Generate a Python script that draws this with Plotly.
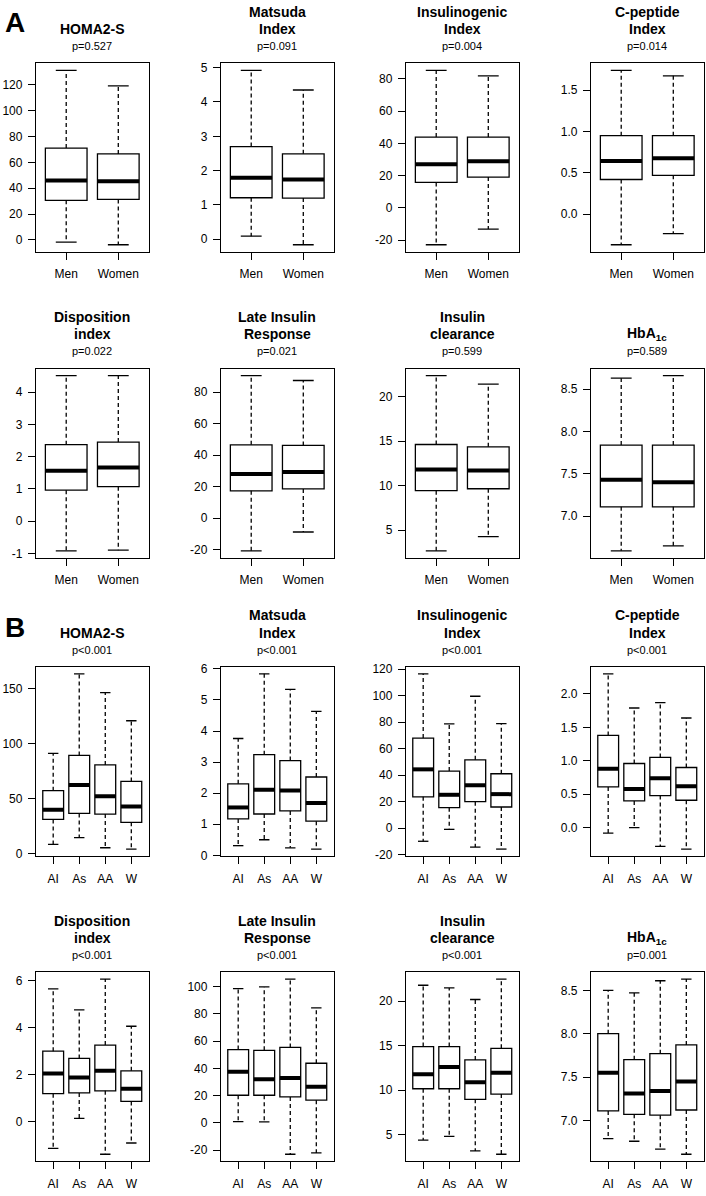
import plotly.graph_objects as go

# ---------------- data ----------------
groups_A = ["Men", "Women"]
groups_B = ["AI", "As", "AA", "W"]

title_line1 = ["", "Matsuda", "Insulinogenic", "C-peptide", "Disposition", "Late Insulin", "Insulin", ""]
title_line2 = ["HOMA2-S", "Index", "Index", "Index", "index", "Response", "clearance", "HbA<sub>1c</sub>"]

p_A = ["p=0.527", "p=0.091", "p=0.004", "p=0.014", "p=0.022", "p=0.021", "p=0.599", "p=0.589"]
p_B = ["p<0.001", "p<0.001", "p<0.001", "p<0.001", "p<0.001", "p<0.001", "p<0.001", "p=0.001"]

# box statistics (panel order: HOMA2-S, Matsuda, Insulinogenic, C-peptide,
# Disposition, Late Insulin Response, Insulin clearance, HbA1c)
A_upper = [[131.2, 119.2], [4.92, 4.35], [85.2, 81.8], [1.74, 1.675], [4.51, 4.51], [90.6, 87.5], [22.4, 21.45], [8.63, 8.66]]
A_q3 = [[71.1, 66.5], [2.70, 2.49], [43.9, 43.9], [0.95, 0.95], [2.37, 2.45], [46.6, 46.2], [14.64, 14.37], [7.84, 7.84]]
A_median = [[45.9, 45.4], [1.79, 1.74], [27.0, 28.9], [0.645, 0.676], [1.56, 1.66], [28.0, 29.2], [11.81, 11.70], [7.43, 7.40]]
A_q1 = [[30.6, 31.3], [1.21, 1.20], [15.8, 19.1], [0.42, 0.47], [0.96, 1.07], [17.3, 18.5], [9.43, 9.65], [7.11, 7.11]]
A_lower = [[-1.8, -3.8], [0.09, -0.16], [-22.8, -13.1], [-0.37, -0.235], [-0.92, -0.90], [-20.9, -8.9], [2.65, 4.25], [6.59, 6.65]]

B_upper = [[91.2, 163.5, 146.4, 120.9], [3.76, 5.84, 5.34, 4.63], [116.4, 78.6, 99.5, 78.9], [2.30, 1.79, 1.87, 1.64],
           [5.66, 4.77, 6.08, 4.07], [98.5, 99.8, 105.6, 84.5], [21.8, 21.5, 20.2, 22.5], [8.50, 8.47, 8.61, 8.63]]
B_q3 = [[57.3, 89.4, 80.7, 65.7], [2.30, 3.24, 3.05, 2.52], [67.9, 43.0, 51.5, 41.0], [1.38, 0.96, 1.05, 0.90],
        [3.01, 2.70, 3.27, 2.17], [53.8, 53.3, 55.4, 43.8], [14.9, 14.9, 13.4, 14.7], [8.00, 7.70, 7.77, 7.87]]
B_median = [[39.9, 62.4, 52.2, 42.9], [1.54, 2.11, 2.09, 1.68], [44.3, 25.1, 32.3, 25.6], [0.88, 0.58, 0.74, 0.62],
            [2.06, 1.89, 2.17, 1.41], [37.5, 32.0, 32.9, 26.6], [11.8, 12.6, 10.9, 11.95], [7.55, 7.31, 7.34, 7.45]]
B_q1 = [[31.2, 36.6, 36.0, 28.5], [1.17, 1.33, 1.43, 1.10], [23.6, 15.4, 19.9, 15.9], [0.61, 0.40, 0.48, 0.41],
        [1.20, 1.23, 1.32, 0.87], [20.3, 20.3, 19.1, 16.7], [10.16, 10.16, 8.97, 9.56], [7.11, 7.07, 7.06, 7.12]]
B_lower = [[8.4, 14.7, 5.4, 4.2], [0.31, 0.50, 0.24, 0.20], [-10.0, -1.0, -14.4, -15.9], [-0.08, 0.0, -0.28, -0.32],
           [-1.13, 0.15, -1.38, -0.90], [1.0, 0.7, -23.0, -22.0], [4.39, 4.8, 3.16, 2.79], [6.79, 6.76, 6.67, 6.61]]

A_ytick_labels = [["0", "20", "40", "60", "80", "100", "120"], ["0", "1", "2", "3", "4", "5"],
                  ["-20", "0", "20", "40", "60", "80"], ["0.0", "0.5", "1.0", "1.5"],
                  ["-1", "0", "1", "2", "3", "4"], ["-20", "0", "20", "40", "60", "80"],
                  ["5", "10", "15", "20"], ["7.0", "7.5", "8.0", "8.5"]]
B_ytick_labels = [["0", "50", "100", "150"], ["0", "1", "2", "3", "4", "5", "6"],
                  ["-20", "0", "20", "40", "60", "80", "100", "120"], ["0.0", "0.5", "1.0", "1.5", "2.0"],
                  ["0", "2", "4", "6"], ["-20", "0", "20", "40", "60", "80", "100"],
                  ["5", "10", "15", "20"], ["7.0", "7.5", "8.0", "8.5"]]

# ---------------- layout constants ----------------
W, H = 706, 1196
FONT = "Liberation Sans, Arial, sans-serif"
col_px = [(36, 148.5), (221, 333.5), (406, 518.5), (591, 703.5)]
rows_A = [(59, 249), (367, 558)]
rows_B = [(668, 859), (976, 1167)]
LW = 1.3

fig = go.Figure()
layout = dict(width=W, height=H, margin=dict(l=0, r=0, t=0, b=0),
              paper_bgcolor="white", plot_bgcolor="white", showlegend=False,
              font=dict(family=FONT, color="black"))
annotations = []

sections = [
    (groups_A, A_lower, A_q1, A_median, A_q3, A_upper, p_A, A_ytick_labels, rows_A),
    (groups_B, B_lower, B_q1, B_median, B_q3, B_upper, p_B, B_ytick_labels, rows_B),
]

for s, (groups, lows, q1s, meds, q3s, ups, pvals, ylabs, rows) in enumerate(sections):
    n = len(groups)
    pos = list(range(1, n + 1))
    for k in range(8):
        r0, r1 = rows[k // 4]
        c0, c1 = col_px[k % 4]
        idx = s * 8 + k + 1
        xa = "x" if idx == 1 else f"x{idx}"
        ya = "y" if idx == 1 else f"y{idx}"
        lo, q1, md, q3, up = lows[k], q1s[k], meds[k], q3s[k], ups[k]

        # box body
        fig.add_trace(go.Box(x=pos, q1=q1, median=md, q3=q3, lowerfence=q1, upperfence=q3,
                             width=0.8, whiskerwidth=0, fillcolor="white", boxpoints=False,
                             line=dict(color="black", width=LW), xaxis=xa, yaxis=ya,
                             hoverinfo="skip"))
        # dashed whiskers, solid caps, thick medians
        wx, wy, cx, cy, mx, my = [], [], [], [], [], []
        for i, p in enumerate(pos):
            wx += [p, p, None, p, p, None]
            wy += [q3[i], up[i], None, q1[i], lo[i], None]
            cx += [p - 0.2, p + 0.2, None, p - 0.2, p + 0.2, None]
            cy += [up[i], up[i], None, lo[i], lo[i], None]
            mx += [p - 0.4, p + 0.4, None]
            my += [md[i], md[i], None]
        fig.add_trace(go.Scatter(x=wx, y=wy, mode="lines", xaxis=xa, yaxis=ya, hoverinfo="skip",
                                 line=dict(color="black", width=1.3, dash="4px,3px")))
        fig.add_trace(go.Scatter(x=cx, y=cy, mode="lines", xaxis=xa, yaxis=ya, hoverinfo="skip",
                                 line=dict(color="black", width=LW)))
        fig.add_trace(go.Scatter(x=mx, y=my, mode="lines", xaxis=xa, yaxis=ya, hoverinfo="skip",
                                 line=dict(color="black", width=4)))

        ymin, ymax = min(lo), max(up)
        span = ymax - ymin
        common = dict(showline=True, mirror=True, linecolor="black", linewidth=LW,
                      ticks="outside", ticklen=7, tickwidth=LW, tickcolor="black",
                      showgrid=False, zeroline=False, fixedrange=True,
                      tickfont=dict(family=FONT, size=12, color="black"))
        layout["xaxis" if idx == 1 else f"xaxis{idx}"] = dict(
            domain=[c0 / W, c1 / W], anchor=ya,
            range=[0.5 - 0.04 * n, n + 0.5 + 0.04 * n],
            tickmode="array", tickvals=pos, ticktext=groups, ticklabelstandoff=4, **common)
        layout["yaxis" if idx == 1 else f"yaxis{idx}"] = dict(
            domain=[1 - r1 / H, 1 - r0 / H], anchor=xa,
            range=[ymin - 0.04 * span, ymax + 0.04 * span],
            tickmode="array", tickvals=[float(t) for t in ylabs[k]], ticktext=ylabs[k],
            ticklabelstandoff=3, **common)

        cx_paper = (c0 + c1) / 2 / W
        if title_line1[k]:
            annotations.append(dict(x=cx_paper, y=1 - (r0 - 52) / H, xref="paper", yref="paper",
                                    text=f"<b>{title_line1[k]}</b>", showarrow=False,
                                    xanchor="center", yanchor="middle",
                                    font=dict(family=FONT, size=14, color="black")))
        annotations.append(dict(x=cx_paper, y=1 - (r0 - 34.5) / H, xref="paper", yref="paper",
                                text=f"<b>{title_line2[k]}</b>", showarrow=False,
                                xanchor="center", yanchor="middle",
                                font=dict(family=FONT, size=14, color="black")))
        annotations.append(dict(x=cx_paper, y=1 - (r0 - 17.5) / H, xref="paper", yref="paper",
                                text=pvals[k], showarrow=False, xanchor="center", yanchor="middle",
                                font=dict(family=FONT, size=11, color="black")))

for letter, ypx in [("A", 18), ("B", 628)]:
    annotations.append(dict(x=15 / W, y=1 - ypx / H, xref="paper", yref="paper",
                            text=f"<b>{letter}</b>", showarrow=False, xanchor="center",
                            yanchor="middle", font=dict(family=FONT, size=28, color="black")))

layout["annotations"] = annotations
fig.update_layout(**layout)
fig.write_html("out.html", config={"displayModeBar": False},
               post_script="document.body.style.margin='0px';document.body.style.padding='0px';")
